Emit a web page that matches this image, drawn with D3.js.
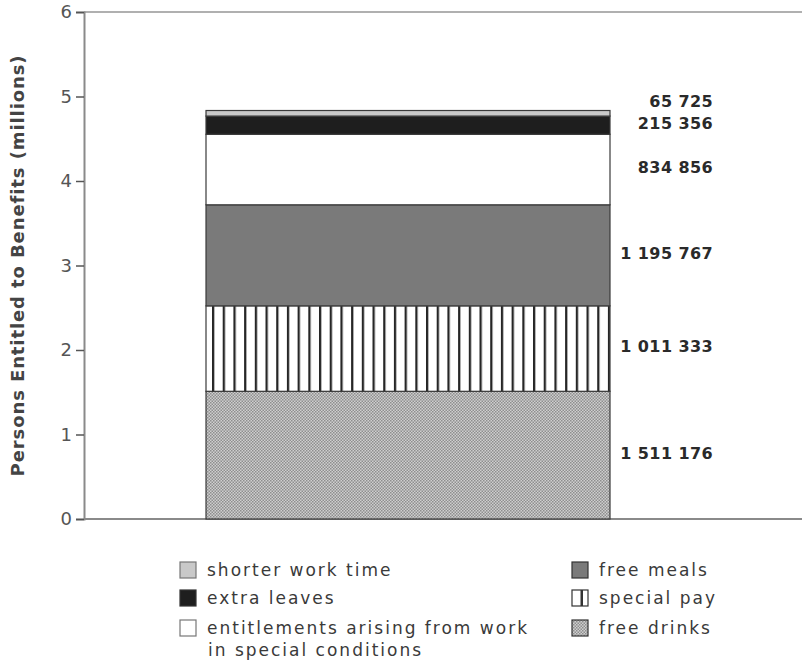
<!DOCTYPE html>
<html>
<head>
<meta charset="utf-8">
<script src="https://cdn.jsdelivr.net/npm/d3@7"></script>
<style>
  body { margin: 0; background: #fff; }
  svg { display: block; }
  text { font-family: "DejaVu Sans", sans-serif; }
</style>
</head>
<body>
<svg id="chart"></svg>
<script>
// stack order, bottom to top
var categories = ['free drinks', 'special pay', 'free meals', 'entitlements', 'extra leaves', 'shorter work time'];
var values = [1511176, 1011333, 1195767, 834856, 215356, 65725];
var legendLeft = ['shorter work time', 'extra leaves', 'entitlements'];
var legendRight = ['free meals', 'special pay', 'free drinks'];
var legendText = {
  'shorter work time': ['shorter  work  time'],
  'extra leaves': ['extra leaves'],
  'entitlements': ['entitlements arising from work', 'in special conditions'],
  'free meals': ['free meals'],
  'special pay': ['special pay'],
  'free drinks': ['free drinks']
};
var yTicks = [0, 1, 2, 3, 4, 5, 6];
var yTitle = 'Persons Entitled to Benefits (millions)';

var width = 802, height = 664;
var svg = d3.select('#chart').attr('width', width).attr('height', height);

var y = d3.scaleLinear().domain([0, 6]).range([519, 12]);
var x = d3.scaleBand().domain(['all']).range([206, 610]).padding(0);

var fmt = d3.formatLocale({decimal: '.', thousands: ' ', grouping: [3], currency: ['', '']}).format(',');

var fills = {
  'free drinks': 'url(#pat-drinks)',
  'special pay': 'url(#pat-pay)',
  'free meals': '#7a7a7a',
  'entitlements': '#ffffff',
  'extra leaves': '#1e1e1e',
  'shorter work time': '#c9c9c9'
};

var defs = svg.append('defs');
var pd = defs.append('pattern').attr('id', 'pat-drinks')
  .attr('patternUnits', 'userSpaceOnUse').attr('width', 3).attr('height', 3);
pd.append('rect').attr('width', 3).attr('height', 3).attr('fill', '#cfcfcf');
pd.append('rect').attr('width', 1.5).attr('height', 1.5).attr('fill', '#8e8e8e');
pd.append('rect').attr('x', 1.5).attr('y', 1.5).attr('width', 1.5).attr('height', 1.5).attr('fill', '#8e8e8e');

var pp = defs.append('pattern').attr('id', 'pat-pay')
  .attr('patternUnits', 'userSpaceOnUse').attr('x', 212).attr('width', 10.7).attr('height', 10);
pp.append('rect').attr('width', 10.7).attr('height', 10).attr('fill', '#ffffff');
pp.append('rect').attr('x', -0.6).attr('width', 3.2).attr('height', 10).attr('fill', '#9a9a9a');
pp.append('rect').attr('width', 2).attr('height', 10).attr('fill', '#262626');

// frame lines
svg.append('line').attr('x1', 84).attr('x2', 802).attr('y1', y(6)).attr('y2', y(6))
  .attr('stroke', '#b0b0b0').attr('stroke-width', 2);
svg.append('line').attr('x1', 84).attr('x2', 802).attr('y1', y(0)).attr('y2', y(0))
  .attr('stroke', '#8a8a8a').attr('stroke-width', 2);

// stacked bar
var row = {};
categories.forEach(function(c, i) { row[c] = values[i] / 1e6; });
var stack = d3.stack().keys(categories)([row]);

svg.selectAll('rect.seg')
  .data(stack)
  .enter()
  .append('rect')
  .attr('class', 'seg')
  .attr('x', x('all'))
  .attr('width', x.bandwidth())
  .attr('y', function(d) { return y(d[0][1]); })
  .attr('height', function(d) { return y(d[0][0]) - y(d[0][1]); })
  .attr('fill', function(d) { return fills[d.key]; })
  .attr('stroke', '#3a3a3a')
  .attr('stroke-width', 1.2);

// value labels, pushed up where they would collide
var labelY = [];
stack.forEach(function(d, i) {
  var mid = y((d[0][0] + d[0][1]) / 2);
  if (i > 0 && mid > labelY[i - 1] - 22) mid = labelY[i - 1] - 22;
  labelY.push(mid);
});
svg.selectAll('text.val')
  .data(stack)
  .enter()
  .append('text')
  .attr('class', 'val')
  .attr('x', 713)
  .attr('y', function(d, i) { return labelY[i] - 2; })
  .attr('dy', '0.36em')
  .attr('text-anchor', 'end')
  .attr('font-size', 16)
  .attr('font-weight', 'bold')
  .attr('letter-spacing', 0.4)
  .attr('fill', '#2a2a2a')
  .text(function(d, i) { return fmt(values[i]); });

// y axis
var yAxis = d3.axisLeft(y).tickValues(yTicks).tickSize(8).tickPadding(4).tickFormat(d3.format('d'));
var gy = svg.append('g').attr('transform', 'translate(84,0)').call(yAxis);
gy.select('.domain').attr('stroke', '#8a8a8a').attr('stroke-width', 2);
gy.selectAll('.tick line').attr('stroke', '#555').attr('stroke-width', 1.5);
gy.selectAll('.tick text').attr('font-size', 18).attr('fill', '#555')
  .attr('font-family', '"DejaVu Sans", sans-serif');

svg.append('text')
  .attr('transform', 'translate(24,' + ((y(0) + y(6)) / 2) + ') rotate(-90)')
  .attr('text-anchor', 'middle')
  .attr('font-size', 18)
  .attr('font-weight', 'bold')
  .attr('letter-spacing', 0.9)
  .attr('fill', '#444')
  .text(yTitle);

// legend
function drawLegend(keys, x0, tops) {
  var g = svg.append('g');
  keys.forEach(function(k, i) {
    var t = tops[i];
    g.append('rect').attr('x', x0).attr('y', t).attr('width', 16).attr('height', 16)
      .attr('fill', k === 'special pay' ? '#fff' : fills[k])
      .attr('stroke', k === 'entitlements' || k === 'shorter work time' ? '#777' : '#333')
      .attr('stroke-width', 1.2);
    if (k === 'special pay') {
      g.append('rect').attr('x', x0 + 8.5).attr('y', t).attr('width', 2.5).attr('height', 16).attr('fill', '#333');
    }
    legendText[k].forEach(function(line, j) {
      g.append('text')
        .attr('x', x0 + 27 + (j > 0 ? 1 : 0))
        .attr('y', t + 14 + j * 22)
        .attr('font-size', 17)
        .attr('letter-spacing', 2)
        .attr('fill', '#3a3a3a')
        .text(line);
    });
  });
}
drawLegend(legendLeft, 180, [562, 590, 620]);
drawLegend(legendRight, 572, [562, 590, 620]);
</script>
</body>
</html>
